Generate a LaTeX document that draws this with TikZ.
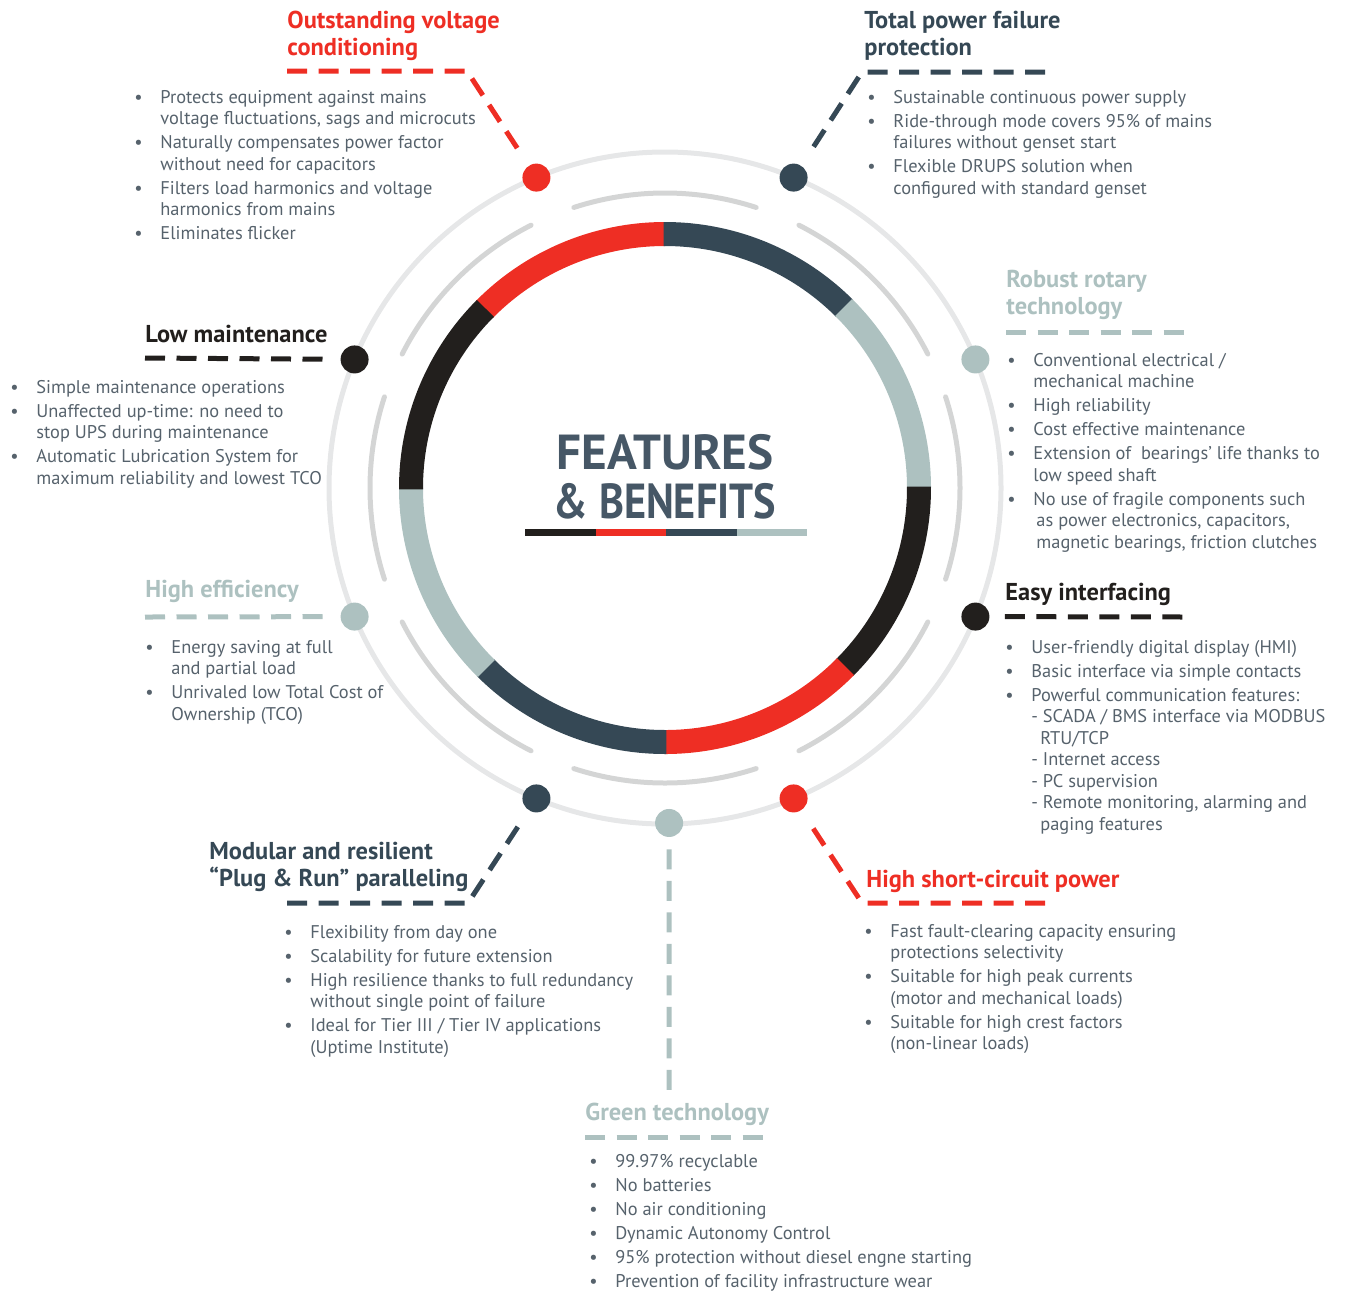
\documentclass[tikz,border=0pt]{standalone}
\usepackage{fontspec}
\setmainfont{PT Sans}

\definecolor{hRed}{HTML}{EE2E24}
\definecolor{hSlate}{HTML}{354855}
\definecolor{hSage}{HTML}{ADC1C0}
\definecolor{hBlack}{HTML}{221F1D}
\definecolor{hText}{HTML}{56626C}
\definecolor{hTitle}{HTML}{465766}
\definecolor{hRingOut}{HTML}{E6E7E8}
\definecolor{hRingMid}{HTML}{D4D5D5}

\newcommand{\bul}{\makebox[13pt][l]{\textbullet}}
\newcommand{\ind}{\hspace*{13pt}}
\newcommand{\blk}[1]{\begin{tabular}[t]{@{}l@{}}#1\end{tabular}}

\begin{document}
\begin{tikzpicture}[x=0.5pt, y=-0.5pt,
    title/.style={font=\bfseries\fontsize{12.2}{13.5}\selectfont, anchor=base west, inner sep=0pt},
    body/.style={font=\fontsize{9.2}{10.75}\selectfont, text=hText, anchor=base west, inner sep=0pt},
    lead/.style={line width=2.5pt, dash pattern=on 10pt off 5.75pt},
    hdot/.style={circle, fill=#1, minimum size=14pt, inner sep=0pt},
    midarc/.style={hRingMid, line width=2.5pt, line cap=round}]
\useasboundingbox (0,0) rectangle (1348,1292);

% rings and dots
\begin{scope}[shift={(665,488)}, y=0.5pt]
    \draw[hRingOut, line width=2.5pt] (0,0) circle[radius=336];
    \foreach \a in {0,45,...,315}
        \draw[midarc] (\a-18:295) arc[start angle=\a-18, end angle=\a+18, radius=295];
    \foreach \a/\c in {90/hRed, 45/hSlate, 0/hSage, -45/hBlack, -90/hRed, -135/hSlate, -180/hSage, 135/hBlack}
        \draw[\c, line width=12pt] (\a:254) arc[start angle=\a, end angle=\a+45.3, radius=254];
    \node[hdot=hRed] (dOVC) at (112.5:336) {};
    \node[hdot=hSlate] (dTPF) at (67.5:336) {};
    \node[hdot=hSage] (dRRT) at (22.5:336) {};
    \node[hdot=hBlack] (dEI) at (-22.5:336) {};
    \node[hdot=hRed] (dHSC) at (-67.5:336) {};
    \node[hdot=hSage] (dGT) at (-89.3:335) {};
    \node[hdot=hSlate] (dMR) at (-112.5:336) {};
    \node[hdot=hSage] (dHE) at (-157.5:336) {};
    \node[hdot=hBlack] (dLM) at (157.5:336) {};
\end{scope}

% centre title
\node[font=\bfseries\fontsize{24.6}{24.5}\selectfont, text=hTitle, anchor=base, inner sep=0pt] (ctitle) at (665,469)
    {\begin{tabular}[t]{@{}c@{}}FEATURES\\\scalebox{0.86}[1]{\& BENEFITS}\end{tabular}};
\foreach \i/\c in {0/hBlack, 1/hRed, 2/hSlate, 3/hSage}
    \fill[\c] ({525+70.5*\i},529) rectangle ({525+70.5*\i+70.6},536);

% leader points
\coordinate (ovcEnd) at (287,71);
\coordinate (ovcCorner) at (467,71);
\coordinate (tpfCorner) at (862,72);
\coordinate (tpfEnd) at (1045,72);
\coordinate (rrtA) at (1006,332);
\coordinate (rrtB) at (1188,332);
\coordinate (eiEnd) at (1188,617);
\coordinate (hscCorner) at (862,903);
\coordinate (hscEnd) at (1045,903);
\coordinate (gtEnd) at (669,1090);
\coordinate (gtA) at (585,1137);
\coordinate (gtB) at (767,1137);
\coordinate (mrEnd) at (287,903);
\coordinate (mrCorner) at (468,903);
\coordinate (heEnd) at (145,617);
\coordinate (lmEnd) at (145,358);

% leaders
\draw[lead, hRed, shorten >=7pt] (ovcEnd) -- (ovcCorner) -- (dOVC);
\draw[lead, hSlate, shorten >=7pt] (tpfEnd) -- (tpfCorner) -- (dTPF);
\draw[lead, hSage] (rrtA) -- (rrtB);
\draw[lead, hBlack, shorten <=7.5pt] (dEI) -- (eiEnd);
\draw[lead, hRed, shorten >=7pt] (hscEnd) -- (hscCorner) -- (dHSC);
\draw[lead, hSage, shorten <=6pt] (dGT) -- (gtEnd);
\draw[lead, hSage] (gtA) -- (gtB);
\draw[lead, hSlate, shorten >=7pt] (mrEnd) -- (mrCorner) -- (dMR);
\draw[lead, hSage, shorten >=8.5pt] (heEnd) -- (dHE);
\draw[lead, hBlack, shorten >=8.5pt] (lmEnd) -- (dLM);

% titles
\node[title, text=hRed] (tOVC) at (287,28) {\blk{Outstanding voltage\\conditioning}};
\node[title, text=hSlate] (tTPF) at (864,28) {\blk{Total power failure\\protection}};
\node[title, text=hSage] (tRRT) at (1006,287) {\blk{Robust rotary\\technology}};
\node[title, text=hBlack] (tEI) at (1005,600) {Easy interfacing};
\node[title, text=hRed] (tHSC) at (866,887) {High short-circuit power};
\node[title, text=hSage] (tGT) at (585,1120) {Green technology};
\node[title, text=hSlate] (tMR) at (209,859) {\blk{Modular and resilient\\“Plug \& Run” paralleling}};
\node[title, text=hSage] (tHE) at (145,597) {High efficiency};
\node[title, text=hBlack] (tLM) at (145,342) {Low maintenance};

% bullet lists
\node[body] (bOVC) at (134,103) {\blk{\bul Protects equipment against mains\\ \ind voltage fluctuations, sags and microcuts\\[1.25pt]
    \bul Naturally compensates power factor\\ \ind without need for capacitors\\[1.25pt]
    \bul Filters load harmonics and voltage\\ \ind harmonics from mains\\[1.25pt]
    \bul Eliminates flicker}};
\node[body] (bTPF) at (867,103) {\blk{\bul Sustainable continuous power supply\\[1.25pt]
    \bul Ride-through mode covers 95\% of mains\\ \ind failures without genset start\\[1.25pt]
    \bul Flexible DRUPS solution when\\ \ind configured with standard genset}};
\node[body] (bRRT) at (1007,366) {\blk{\bul Conventional electrical /\\ \ind mechanical machine\\[1.25pt]
    \bul High reliability\\[1.25pt]
    \bul Cost effective maintenance\\[1.25pt]
    \bul Extension of~ bearings’ life thanks to\\ \ind low speed shaft\\[1.25pt]
    \bul No use of fragile components such\\ \ind\,as power electronics, capacitors,\\ \ind\,magnetic bearings, friction clutches}};
\node[body] (bEI) at (1005,653) {\blk{\bul User-friendly digital display (HMI)\\[1.25pt]
    \bul Basic interface via simple contacts\\[1.25pt]
    \bul Powerful communication features:\\ \ind - SCADA / BMS interface via MODBUS\\ \ind\hspace*{4.5pt}RTU/TCP\\
    \ind - Internet access\\ \ind - PC supervision\\ \ind - Remote monitoring, alarming and\\ \ind\hspace*{4.5pt}paging features}};
\node[body] (bHSC) at (864,937) {\blk{\bul Fast fault-clearing capacity ensuring\\ \ind protections selectivity\\[1.25pt]
    \bul Suitable for high peak currents\\ \ind (motor and mechanical loads)\\[1.25pt]
    \bul Suitable for high crest factors\\ \ind (non-linear loads)}};
\node[body] (bGT) at (589,1167) {\blk{\bul 99.97\% recyclable\\[1.25pt]
    \bul No batteries\\[1.25pt]
    \bul No air conditioning\\[1.25pt]
    \bul Dynamic Autonomy Control\\[1.25pt]
    \bul 95\% protection without diesel engne starting\\[1.25pt]
    \bul Prevention of facility infrastructure wear}};
\node[body] (bMR) at (284,938) {\blk{\bul Flexibility from day one\\[1.25pt]
    \bul Scalability for future extension\\[1.25pt]
    \bul High resilience thanks to full redundancy\\ \ind without single point of failure\\[1.25pt]
    \bul Ideal for Tier III / Tier IV applications\\ \ind (Uptime Institute)}};
\node[body] (bHE) at (145,653) {\blk{\bul Energy saving at full\\ \ind and partial load\\[1.25pt]
    \bul Unrivaled low Total Cost of\\ \ind Ownership (TCO)}};
\node[body] (bLM) at (10,393) {\blk{\bul Simple maintenance operations\\[1.25pt]
    \bul Unaffected up-time: no need to\\ \ind stop UPS during maintenance\\[1.25pt]
    \bul Automatic Lubrication System for\\ \ind maximum reliability and lowest TCO}};
\end{tikzpicture}
\end{document}
